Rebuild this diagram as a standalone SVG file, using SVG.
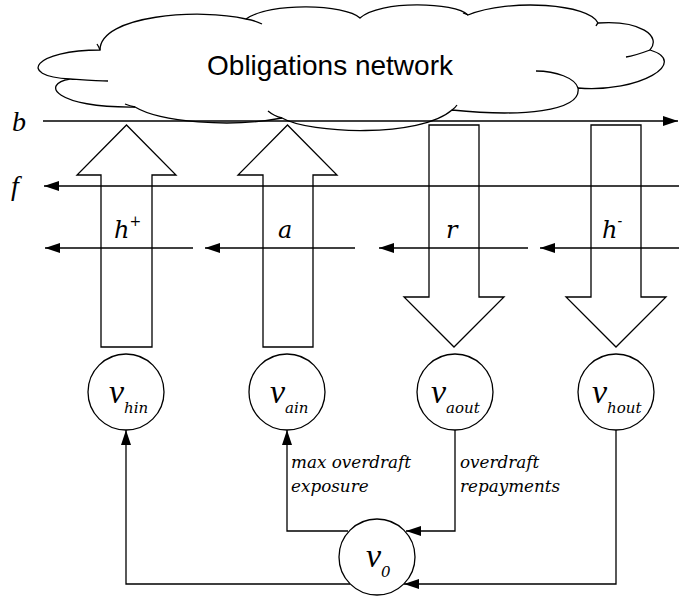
<svg xmlns="http://www.w3.org/2000/svg" width="679" height="596" viewBox="0 0 679 596">
<defs>
<marker id="ah" markerWidth="15" markerHeight="10" refX="15" refY="5" orient="auto" markerUnits="userSpaceOnUse"><path d="M0,0 L15,5 L0,10 Z" fill="#000"/></marker>
</defs>
<style>
.ln{fill:none;stroke:#000;stroke-width:1.3}
.blk{fill:none;stroke:#000;stroke-width:1.3}
.nd{fill:#fff;stroke:#000;stroke-width:1.3}
.it{font-family:"Liberation Serif",serif;font-style:italic;fill:#000}
.sm{font-family:"DejaVu Serif",serif;font-style:italic;fill:#000}
.ttl{font-family:"Liberation Sans",Arial,sans-serif;font-size:28px;fill:#000}
</style>
<rect width="679" height="596" fill="#fff"/>
<g id="cloud">
<path class="nd" d="M100,50 C35,50 15,76 70,79 C40,84 55,108 135,107 C160,122 230,128 282,118 C310,134 420,138 452,110 C520,117 582,112 578,88 C640,93 690,62 650,50 C662,36 640,20 598,23 C590,4 510,-2 468,15 C455,2 380,0 360,18 C345,4 270,2 246,19 C200,8 100,15 100,50 Z"/>
<path class="ln" d="M70,79 C85,80 98,81 108,81 M125,104 Q130,106 135,107 M268,111 Q274,116 282,118 M452,110 Q455,108 457,105 M578,88 C575,78 556,71 536,71 M650,50 C642,53 633,56 626,57 M598,23 Q597,24 596,26 M468,15 Q466,14 463,13 M246,19 C252,20 258,22 262,24 M100,50 Q99,47 97,44"/>
<text class="ttl" x="330" y="75" text-anchor="middle">Obligations network</text>
</g>
<g id="flows">
<path class="ln" d="M43,121 H678" marker-end="url(#ah)"/>
<path class="ln" d="M679,186 H44" marker-end="url(#ah)"/>
<path class="ln" d="M193,248 H45" marker-end="url(#ah)"/>
<path class="ln" d="M355,248 H205" marker-end="url(#ah)"/>
<path class="ln" d="M528,248 H379" marker-end="url(#ah)"/>
<path class="ln" d="M679,248 H540" marker-end="url(#ah)"/>
<text class="it" x="12" y="131" font-size="28">b</text>
<text class="it" x="11" y="195" font-size="28">f</text>
</g>
<g id="arrow-hplus">
<polygon class="blk" points="101,347 101,175 77,175 126.5,125 176,175 152,175 152,347"/>
<text class="sm" x="114" y="238" font-size="24">h<tspan font-size="14" dy="-12">+</tspan></text>
</g>
<g id="arrow-a">
<polygon class="blk" points="263,347 263,175 238,175 287.5,125 337,175 313,175 313,347"/>
<text class="sm" x="278" y="238" font-size="24">a</text>
</g>
<g id="arrow-r">
<polygon class="blk" points="429,125 479,125 479,297 504,297 454,347 404,297 429,297"/>
<text class="sm" x="446" y="238" font-size="24">r</text>
</g>
<g id="arrow-hminus">
<polygon class="blk" points="591,125 641,125 641,297 666,297 616,347 566,297 591,297"/>
<text class="sm" x="602" y="238" font-size="24">h<tspan font-size="14" dy="-12">-</tspan></text>
</g>
<g id="connectors">
<path class="ln" d="M350,584 H126 V430" marker-end="url(#ah)"/>
<path class="ln" d="M348,531 H287 V430" marker-end="url(#ah)"/>
<path class="ln" d="M455,430 V531 H406" marker-end="url(#ah)"/>
<path class="ln" d="M616,430 V584 H404" marker-end="url(#ah)"/>
<text class="sm" x="291" y="468" font-size="16.8">max overdraft</text>
<text class="sm" x="291" y="492" font-size="16.8">exposure</text>
<text class="sm" x="460" y="468" font-size="16.8">overdraft</text>
<text class="sm" x="460" y="492" font-size="16.8">repayments</text>
</g>
<g id="v_hin">
<circle class="nd" cx="126" cy="392" r="38"/>
<text class="it" x="109" y="403" font-size="34">v<tspan class="sm" font-size="15" dy="10">hin</tspan></text>
</g>
<g id="v_ain">
<circle class="nd" cx="287" cy="392" r="38"/>
<text class="it" x="270" y="403" font-size="34">v<tspan class="sm" font-size="15" dy="10">ain</tspan></text>
</g>
<g id="v_aout">
<circle class="nd" cx="455" cy="392" r="38"/>
<text class="it" x="431" y="403" font-size="34">v<tspan class="sm" font-size="15" dy="10">aout</tspan></text>
</g>
<g id="v_hout">
<circle class="nd" cx="616" cy="392" r="38"/>
<text class="it" x="592" y="403" font-size="34">v<tspan class="sm" font-size="15" dy="10">hout</tspan></text>
</g>
<g id="v_0">
<circle class="nd" cx="377" cy="557" r="38"/>
<text class="it" x="366" y="567" font-size="34">v<tspan class="sm" font-size="15" dy="10">0</tspan></text>
</g>
</svg>
